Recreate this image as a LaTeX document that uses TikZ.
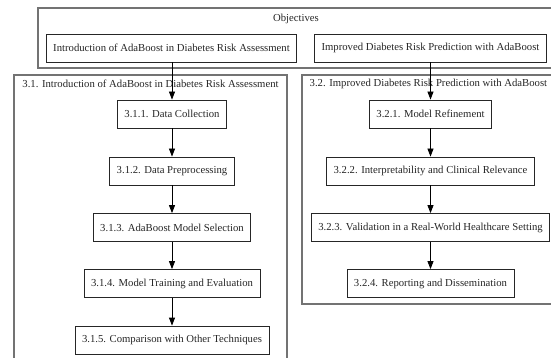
\documentclass[tikz,border=0pt]{standalone}
\usepackage{fontspec}
\setmainfont{Liberation Serif}
\usetikzlibrary{arrows.meta}
\begin{document}
\begin{tikzpicture}[x=1pt,y=-1pt,
  box/.style={draw=black!85, line width=0.8pt, minimum height=28pt, inner xsep=7pt, inner ysep=0pt, font=\fontsize{10.7}{12}\selectfont, text=black!85, anchor=center},
  cluster/.style={draw=black!55, line width=1.1pt},
  ctitle/.style={font=\fontsize{10.7}{12}\selectfont, text=black!85, inner sep=0pt},
  conn/.style={draw=black, line width=0.8pt, -{Triangle[length=8pt,width=6pt]}}
]
\useasboundingbox (0,0) rectangle (551,358);
\clip (0,0) rectangle (551,358);
% clusters
\draw[cluster] (38,8) rectangle (600,68);
\node[ctitle] (objt) at (296,18.5) {Objectives};
\draw[cluster] (14,75) rectangle (287,400);
\node[ctitle] (c31t) at (150.5,83.5) {3.1. Introduction of AdaBoost in Diabetes Risk Assessment};
\draw[cluster] (302,75) rectangle (600,304);
\node[ctitle, anchor=west] (c32t) at (309.5,83.5) {3.2. Improved Diabetes Risk Prediction with AdaBoost};
% objective nodes
\node[box] (intro) at (171.5,48) {Introduction of AdaBoost in Diabetes Risk Assessment};
\node[box] (impr) at (430.5,48) {Improved Diabetes Risk Prediction with AdaBoost};
% left chain
\node[box] (a1) at (172,114) {3.1.1. Data Collection};
\node[box] (a2) at (172,171) {3.1.2. Data Preprocessing};
\node[box] (a3) at (172,227.5) {3.1.3. AdaBoost Model Selection};
\node[box] (a4) at (172,283.5) {3.1.4. Model Training and Evaluation};
\node[box] (a5) at (172,340) {3.1.5. Comparison with Other Techniques};
% right chain
\node[box] (b1) at (430.5,114) {3.2.1. Model Refinement};
\node[box] (b2) at (430.5,171) {3.2.2. Interpretability and Clinical Relevance};
\node[box] (b3) at (430.5,227.5) {3.2.3. Validation in a Real-World Healthcare Setting};
\node[box] (b4) at (430.5,283.5) {3.2.4. Reporting and Dissemination};
% connectors
\draw[conn] (intro.south -| a1) -- (a1.north);
\draw[conn] (a1) -- (a2);
\draw[conn] (a2) -- (a3);
\draw[conn] (a3) -- (a4);
\draw[conn] (a4) -- (a5);
\draw[conn] (impr.south -| b1) -- (b1.north);
\draw[conn] (b1) -- (b2);
\draw[conn] (b2) -- (b3);
\draw[conn] (b3) -- (b4);
\end{tikzpicture}
\end{document}
